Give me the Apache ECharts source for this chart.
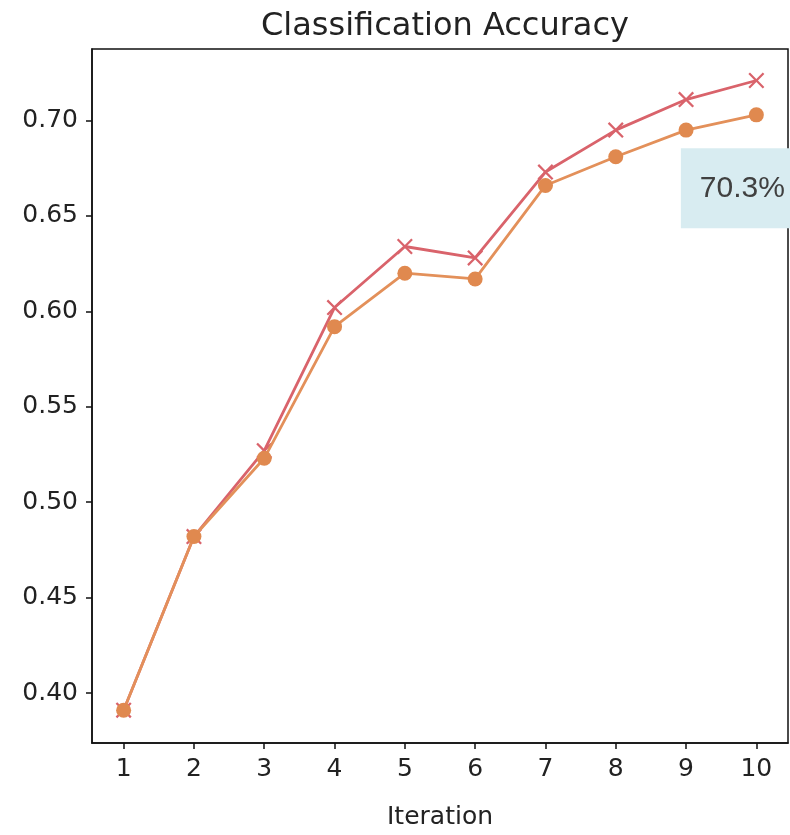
<!DOCTYPE html>
<html>
<head>
<meta charset="utf-8">
<script src="https://cdn.jsdelivr.net/npm/echarts@6/dist/echarts.min.js"></script>
<style>
  html, body { margin: 0; padding: 0; background: #fff; }
  #chart { width: 790px; height: 835px; }
</style>
</head>
<body>
<div id="chart"></div>
<script>
// Accuracy per training iteration
const iterations = [1, 2, 3, 4, 5, 6, 7, 8, 9, 10];
const accuracyTop = [0.391, 0.482, 0.527, 0.602, 0.634, 0.628, 0.673, 0.695, 0.711, 0.721];
const accuracyMain = [0.391, 0.482, 0.523, 0.592, 0.620, 0.617, 0.666, 0.681, 0.695, 0.703];
const yTicks = [0.40, 0.45, 0.50, 0.55, 0.60, 0.65, 0.70];

const FONT = '"DejaVu Sans", sans-serif';
const crossPath = 'path://M2,0 L10,8 L18,0 L20,2 L12,10 L20,18 L18,20 L10,12 L2,20 L0,18 L8,10 L0,2 Z';

const toPairs = vals => iterations.map((x, i) => [x, vals[i]]);

// the final point carries a boxed percentage label
const mainData = toPairs(accuracyMain).map((p, i) => {
  if (i !== iterations.length - 1) return p;
  return {
    value: p,
    label: {
      show: true,
      position: [-68, 41],
      formatter: d => (d.value[1] * 100).toFixed(1) + '%',
      fontFamily: '"Liberation Sans", Arial, sans-serif',
      fontSize: 30,
      lineHeight: 30,
      color: '#404040',
      backgroundColor: '#d8ecf1',
      padding: [25, 20, 25, 19]
    }
  };
});

const chart = echarts.init(document.getElementById('chart'), null, { renderer: 'canvas' });
chart.setOption({
  animation: false,
  backgroundColor: '#ffffff',
  title: {
    text: 'Classification Accuracy',
    left: 440,
    textAlign: 'center',
    top: 6,
    textStyle: { fontFamily: FONT, fontSize: 32, fontWeight: 'normal', color: '#222' }
  },
  grid: {
    left: 92, right: 2, top: 49, bottom: 75,
    show: true, borderColor: '#111', borderWidth: 1.5, backgroundColor: '#fff'
  },
  xAxis: {
    type: 'value',
    min: 0.55,
    max: 10.45,
    name: 'Iteration',
    nameLocation: 'middle',
    nameGap: 62,
    nameTextStyle: { fontFamily: FONT, fontSize: 25, color: '#222' },
    splitLine: { show: false },
    axisLine: { show: true, lineStyle: { color: '#111', width: 1.5 } },
    axisTick: { show: true, length: 6, lineStyle: { color: '#111', width: 1.5 }, customValues: iterations },
    axisLabel: { fontFamily: FONT, fontSize: 25, color: '#222', margin: 14, customValues: iterations }
  },
  yAxis: {
    type: 'value',
    min: 0.3738,
    max: 0.7375,
    splitLine: { show: false },
    axisLine: { show: true, lineStyle: { color: '#111', width: 1.5 } },
    axisTick: { show: true, length: 6, lineStyle: { color: '#111', width: 1.5 }, customValues: yTicks },
    axisLabel: {
      fontFamily: FONT, fontSize: 25, color: '#222', margin: 14,
      customValues: yTicks,
      formatter: v => v.toFixed(2)
    }
  },
  series: [
    {
      type: 'line',
      data: toPairs(accuracyTop),
      symbol: crossPath,
      symbolSize: 16,
      showAllSymbol: true,
      lineStyle: { color: '#d9636b', width: 2.8 },
      itemStyle: { color: '#d9636b' },
      z: 2
    },
    {
      type: 'line',
      data: mainData,
      symbol: 'circle',
      symbolSize: 15,
      showAllSymbol: true,
      lineStyle: { color: '#e3905a', width: 2.8 },
      itemStyle: { color: '#e0894f' },
      z: 3
    }
  ]
});
</script>
</body>
</html>
